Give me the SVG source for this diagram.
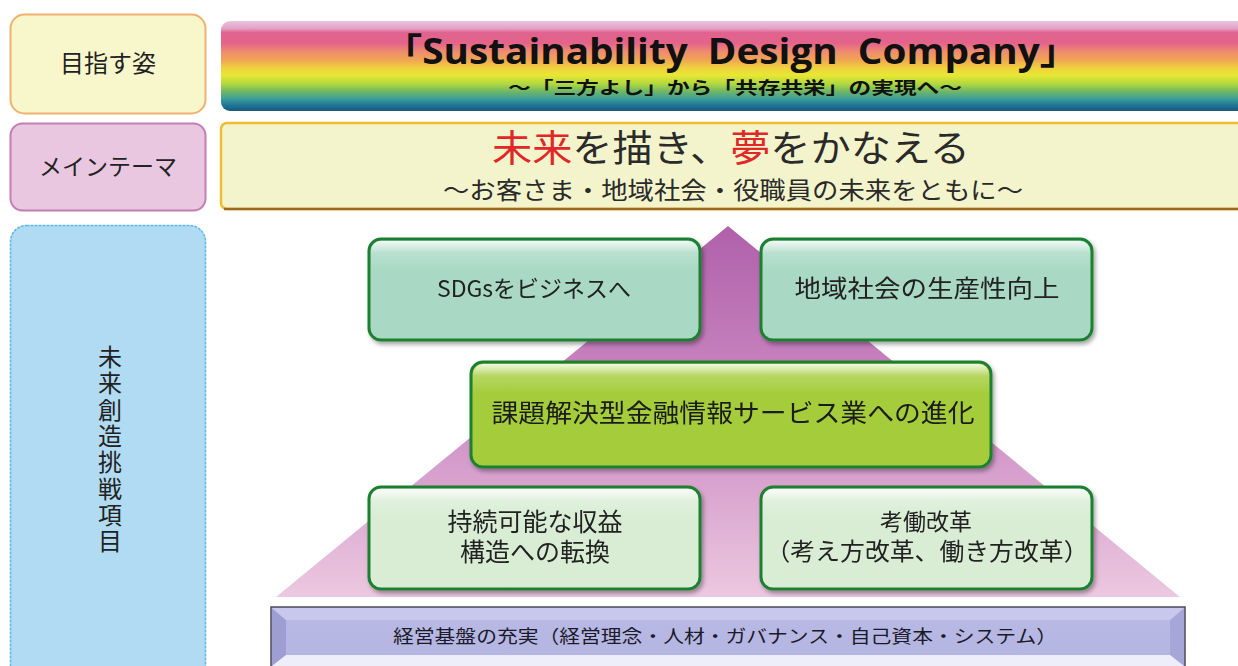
<svg xmlns="http://www.w3.org/2000/svg" width="1238" height="666" viewBox="0 0 1238 666">
<defs>
<linearGradient id="rainbow" x1="0" y1="0" x2="0" y2="1">
<stop offset="0" stop-color="#e8c4de"/>
<stop offset="0.08" stop-color="#e4a4c8"/>
<stop offset="0.13" stop-color="#e0628e"/>
<stop offset="0.25" stop-color="#e4648a"/>
<stop offset="0.34" stop-color="#ee8c70"/>
<stop offset="0.43" stop-color="#f0a452"/>
<stop offset="0.52" stop-color="#f0d040"/>
<stop offset="0.60" stop-color="#e8e832"/>
<stop offset="0.70" stop-color="#b0d840"/>
<stop offset="0.78" stop-color="#70b864"/>
<stop offset="0.86" stop-color="#40a098"/>
<stop offset="0.93" stop-color="#207898"/>
<stop offset="1" stop-color="#1a5878"/>
</linearGradient>
<linearGradient id="tri" x1="0" y1="0" x2="0" y2="1">
<stop offset="0" stop-color="#b060aa"/>
<stop offset="0.5" stop-color="#cc8cc4"/>
<stop offset="1" stop-color="#ecc8e0"/>
</linearGradient>
<linearGradient id="hl" x1="0" y1="0" x2="0" y2="1">
<stop offset="0" stop-color="#ffffff" stop-opacity="0.85"/>
<stop offset="0.12" stop-color="#ffffff" stop-opacity="0.2"/>
<stop offset="0.3" stop-color="#ffffff" stop-opacity="0"/>
</linearGradient>
<linearGradient id="barg" x1="0" y1="0" x2="0" y2="1">
<stop offset="0" stop-color="#c4c4ec"/>
<stop offset="0.25" stop-color="#b8b8e4"/>
<stop offset="1" stop-color="#b4b4e0"/>
</linearGradient>
<filter id="sh" x="-5%" y="-5%" width="115%" height="120%">
<feGaussianBlur in="SourceAlpha" stdDeviation="2"/>
<feOffset dx="2" dy="3" result="b"/>
<feFlood flood-color="#000" flood-opacity="0.35"/>
<feComposite in2="b" operator="in"/>
<feMerge><feMergeNode/><feMergeNode in="SourceGraphic"/></feMerge>
</filter>
</defs>
<style>
.jp{font-family:"Noto Sans CJK JP","Noto Sans",sans-serif;fill:#222}
.gbox{stroke:#1f8030;stroke-width:3}
.mint{fill:#a9d9c4}
.lime{fill:#a4cc3a}
.pale{fill:#d9edd4}
</style>
<rect width="1238" height="666" fill="#ffffff"/>

<g id="label-goal">
<rect x="10.5" y="14.5" width="195" height="99" rx="14" fill="#f8f7cc" stroke="#f0b070" stroke-width="2"/>
<text class="jp" x="108" y="72" font-size="24" text-anchor="middle">目指す姿</text>
</g>
<g id="label-theme">
<rect x="10.5" y="123.5" width="195" height="87" rx="12" fill="#e9c7e1" stroke="#c27fb4" stroke-width="2"/>
<text class="jp" x="108" y="175" font-size="23" text-anchor="middle">メインテーマ</text>
</g>
<g id="label-challenge">
<rect x="10.5" y="225.5" width="195" height="460" rx="16" fill="#b1dbf3" stroke="#5cb8e4" stroke-width="1.5" stroke-dasharray="3 1"/>
<text class="jp" x="110" y="345" font-size="24" style="writing-mode:vertical-rl;letter-spacing:2.3px">未来創造挑戦項目</text>
</g>

<g id="banner">
<rect x="221" y="21" width="1030" height="90" rx="9" fill="url(#rainbow)"/>
<text x="731" y="64" font-family="'Open Sans','Noto Sans CJK JP',sans-serif" font-weight="bold" font-size="35" fill="#111" text-anchor="middle" textLength="695" lengthAdjust="spacingAndGlyphs" xml:space="preserve">「Sustainability  Design  Company」</text>
<text class="jp" x="735" y="94" font-size="17" font-weight="bold" text-anchor="middle" textLength="454" lengthAdjust="spacingAndGlyphs" style="fill:#111">～「三方よし」から「共存共栄」の実現へ～</text>
</g>

<g id="main-theme">
<rect x="221" y="123" width="1030" height="86" rx="6" fill="#f4f4cc" stroke="#f0bc30" stroke-width="2.5"/>
<line x1="224" y1="209" x2="1238" y2="209" stroke="#9a6a20" stroke-width="2.5"/>
<text class="jp" x="731" y="162" font-size="37" text-anchor="middle" textLength="478" lengthAdjust="spacingAndGlyphs" style="fill:#2a2a2a"><tspan fill="#e02828">未来</tspan>を描き、<tspan fill="#e02828">夢</tspan>をかなえる</text>
<text class="jp" x="733" y="199" font-size="24" text-anchor="middle" textLength="580" lengthAdjust="spacingAndGlyphs" style="fill:#2a2a2a">～お客さま・地域社会・役職員の未来をともに～</text>
</g>

<g id="pyramid">
<polygon points="728,226 1180,597 276,597" fill="url(#tri)"/>
</g>

<g id="box-sdgs" filter="url(#sh)">
<rect class="gbox mint" x="369" y="239" width="331" height="101" rx="12"/>
<rect x="371" y="241" width="327" height="97" rx="10" fill="url(#hl)"/>
<text class="jp" x="534" y="297" font-size="23" text-anchor="middle">SDGsをビジネスへ</text>
</g>
<g id="box-region" filter="url(#sh)">
<rect class="gbox mint" x="761" y="239" width="331" height="101" rx="12"/>
<rect x="763" y="241" width="327" height="97" rx="10" fill="url(#hl)"/>
<text class="jp" x="927" y="297" font-size="24" text-anchor="middle" textLength="265" lengthAdjust="spacingAndGlyphs">地域社会の生産性向上</text>
</g>
<g id="box-finance" filter="url(#sh)">
<rect class="gbox lime" x="471" y="362" width="520" height="105" rx="12"/>
<rect x="473" y="364" width="516" height="101" rx="10" fill="url(#hl)"/>
<text class="jp" x="733" y="422" font-size="25" text-anchor="middle" textLength="483" lengthAdjust="spacingAndGlyphs" style="fill:#1a1a1a">課題解決型金融情報サービス業への進化</text>
</g>
<g id="box-revenue" filter="url(#sh)">
<rect class="gbox pale" x="369" y="487" width="331" height="102" rx="12"/>
<rect x="371" y="489" width="327" height="98" rx="10" fill="url(#hl)"/>
<text class="jp" font-size="25" text-anchor="middle"><tspan x="535" y="531">持続可能な収益</tspan><tspan x="535" y="561">構造への転換</tspan></text>
</g>
<g id="box-work" filter="url(#sh)">
<rect class="gbox pale" x="761" y="487" width="331" height="102" rx="12"/>
<rect x="763" y="489" width="327" height="98" rx="10" fill="url(#hl)"/>
<text class="jp" text-anchor="middle"><tspan x="926" y="530" font-size="23">考働改革</tspan><tspan x="927" y="560" font-size="24" textLength="323" lengthAdjust="spacingAndGlyphs">（考え方改革、働き方改革）</tspan></text>
</g>

<g id="foundation">
<rect x="271" y="607" width="914" height="62" fill="url(#barg)" stroke="#4a4a5a" stroke-width="1.5"/>
<polygon points="272,608 286,620 286,655 272,666" fill="#9e9ed2"/>
<polygon points="1184,608 1170,620 1170,655 1184,666" fill="#a6a6d8"/>
<polygon points="272,608 1184,608 1170,620 286,620" fill="#c8c8ee"/>
<polygon points="286,655 1170,655 1184,666 272,666" fill="#eeeefa"/>
<text class="jp" x="725" y="643" font-size="18" text-anchor="middle" textLength="664" lengthAdjust="spacingAndGlyphs" style="fill:#1a1a2a">経営基盤の充実（経営理念・人材・ガバナンス・自己資本・システム）</text>
</g>

<g id="connectors"></g>
</svg>
